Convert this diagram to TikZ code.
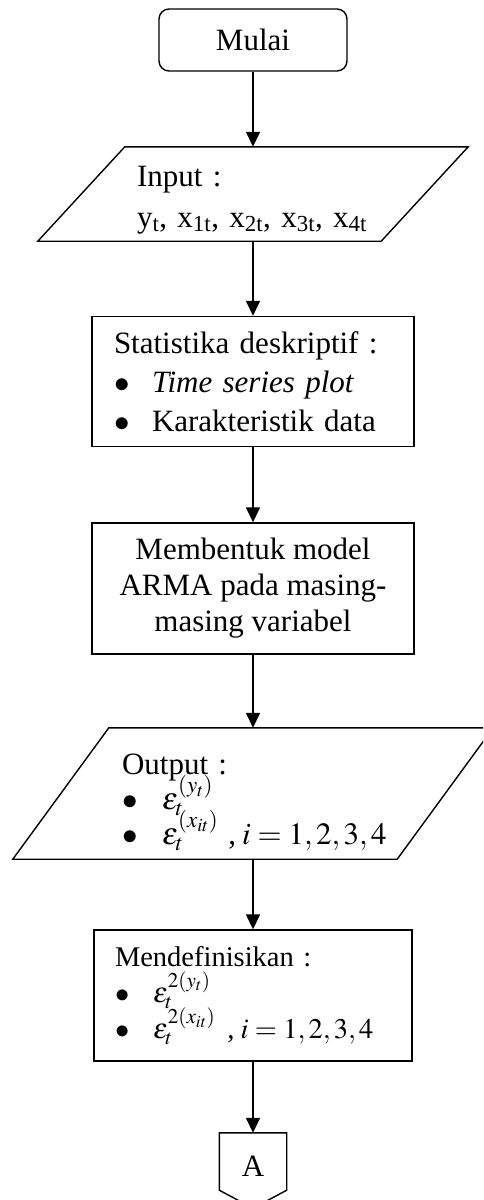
\documentclass[tikz,border=0pt]{standalone}
\usepackage{amsmath}
\usepackage{mathptmx}
\usepackage{fontspec}
\setmainfont{Liberation Serif}
\usetikzlibrary{arrows.meta}

\newcommand{\rapat}{\lineskiplimit-100pt\relax}
\newcommand{\butir}[1]{\makebox[#1][l]{$\bullet$}}

\begin{document}
\begin{tikzpicture}[x=1pt,y=-1pt,
  garis/.style={line width=1.4pt},
  panah/.style={line width=1.5pt,-{Triangle[length=15pt,width=14pt]}},
  kotak/.style={draw,line width=1.4pt,inner sep=0pt,minimum width=322pt,minimum height=130pt},
  miring/.style={inner sep=0pt},
  huruf/.style={font=\fontsize{31}{#1}\selectfont\rapat}]
\useasboundingbox (0,0) rectangle (483,1200);
\clip (0,0) rectangle (483,1200);
\node[draw,line width=1.4pt,rounded corners=10pt,minimum width=188pt,minimum height=62pt,huruf=37] (mulai) at (253,40) {Mulai};
\node[miring,minimum width=430pt,minimum height=94pt,text width=232pt,align=left,huruf=41] (input) at (253,194)
  {\rule{0pt}{32pt}Input :\\y\textsubscript{t}, x\textsubscript{1t}, x\textsubscript{2t}, x\textsubscript{3t}, x\textsubscript{4t}};
\draw[garis] (input.south west) -- ([xshift=-87pt]input.south east) -- (input.north east) -- ([xshift=87pt]input.north west) -- cycle;
\node[kotak,text width=278pt,align=left,huruf=39] (stat) at (253,381.5)
  {Statistika deskriptif :\\
   \butir{38pt}\textit{Time series plot}\\
   \butir{38pt}Karakteristik data};
\node[kotak,minimum height=131pt,align=center,huruf=36] (arma) at (253,588.5)
  {Membentuk model\\ARMA pada masing-\\masing variabel};
\node[miring,minimum width=480pt,minimum height=131pt,text width=262pt,align=left,huruf=35] (output) at (253,793.5)
  {\rule{0pt}{38pt}Output :\\
   \butir{40pt}$\varepsilon_t^{\left(y_t\right)}$\\
   \mbox{\butir{40pt}$\varepsilon_t^{\left(x_{it}\right)}$\hspace{10pt},\hspace{6pt}$i=1,2,3,4$}};
\draw[garis] (output.south west) -- ([xshift=-96pt]output.south east) -- (output.north east) -- ([xshift=96pt]output.north west) -- cycle;
\node[kotak,minimum width=318pt,minimum height=131pt,text width=276pt,align=left,font=\fontsize{28.5}{36}\selectfont\rapat] (definisi) at (253,995.5)
  {Mendefinisikan :\\
   \butir{38pt}$\varepsilon_t^{2\left(y_t\right)}$\\
   \mbox{\butir{38pt}$\varepsilon_t^{2\left(x_{it}\right)}$\hspace{12pt},\hspace{6pt}$i=1,2,3,4$}};
\node[miring,minimum width=67pt,minimum height=66pt,huruf=37] (konektor) at (253,1166) {A};
\draw[garis] ([yshift=9pt]konektor.south west) -- (konektor.north west) -- (konektor.north east) -- ([yshift=9pt]konektor.south east) -- ([yshift=-9pt]konektor.south) -- cycle;
\draw[panah] (mulai.south) -- (input.north);
\draw[panah] (input.south) -- (stat.north);
\draw[panah] (stat.south) -- (arma.north);
\draw[panah] (arma.south) -- (output.north);
\draw[panah] (output.south) -- (definisi.north);
\draw[panah] (definisi.south) -- (konektor.north);
\end{tikzpicture}
\end{document}
